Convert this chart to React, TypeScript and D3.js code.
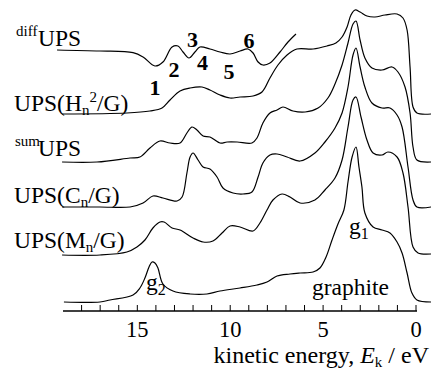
import React from 'react';
import * as d3 from 'd3';

// kinetic energy (eV) and intensity (a.u., above each trace's own baseline)
const diffE = [19.32, 17.01, 15.23, 14.69, 14.05, 13.62, 13.13, 12.81, 12.54, 12.22, 11.9, 11.63, 11.09, 10.55, 10.01, 9.47, 9.04, 8.77, 8.5, 8.24, 7.86, 7.32, 6.89, 6.46];
const diffI = [0, -1, -2.7, -7, -16, -12, 3, 4, -2, -8, -2, 3, 1, -2, -4, -1, 1, -3, -12, -15, -13, -2, 8, 16];

const hnE = [19.05, 15.56, 14.32, 13.67, 13.24, 12.7, 12.16, 11.52, 11.09, 10.55, 10.01, 9.47, 8.77, 8.29, 7.86, 7.43, 6.94, 6.41, 5.54, 4.79, 4.31, 3.98, 3.71, 3.5, 3.28, 3.01, 2.64, 2.21, 1.67, 1.02, 0.7, 0.48, 0.32, 0.16, -0.05, -0.81];
const hnI = [0, 1, 3, 6, 14, 23, 26, 27, 24, 19, 16, 17, 18, 22, 36, 49, 59, 65, 65, 68, 71, 77, 87, 99, 104, 102, 98, 97, 99, 100, 96, 84, 47, 7, 1, 0];

const sumE = [19.05, 17.17, 15.39, 14.86, 14.32, 13.78, 13.24, 12.7, 12.33, 12.06, 11.79, 11.46, 11.09, 10.55, 10.17, 9.63, 8.83, 8.56, 8.24, 7.86, 7.48, 7.16, 6.62, 5.97, 5.27, 4.74, 4.36, 3.98, 3.66, 3.39, 3.23, 3.01, 2.75, 2.37, 1.83, 1.29, 0.97, 0.59, 0.32, 0.16, -0.05, -0.81];
const sumI = [0, 0, 4, 5, 14, 21, 19, 19, 29, 35, 32, 26, 25, 19, 20, 20, 19, 24, 39, 49, 52, 55, 51, 50, 54, 64, 78, 97, 119, 138, 141, 122, 104, 94, 92, 95, 90, 75, 49, 15, 2, 0];

const cnE = [19.05, 17.01, 15.39, 14.69, 14.16, 13.62, 12.86, 12.59, 12.33, 12.16, 12.0, 11.73, 11.46, 11.09, 10.71, 10.39, 9.85, 9.31, 8.83, 8.5, 8.24, 7.86, 7.48, 6.94, 6.24, 5.44, 4.9, 4.36, 3.98, 3.66, 3.39, 3.23, 3.01, 2.75, 2.37, 1.83, 1.4, 1.02, 0.75, 0.43, 0.16, -0.05, -0.81];
const cnI = [0, 0, 0, 4, 11, 9, 6, 10, 34, 50, 54, 47, 40, 38, 30, 19, 14, 13, 15, 30, 44, 52, 53, 50, 46, 54, 65, 79, 94, 120, 152, 159, 140, 120, 104, 99, 99, 92, 80, 40, 7, 0, 0];

const mnE = [19.05, 17.01, 15.56, 15.02, 14.59, 14.16, 13.78, 13.56, 13.13, 12.7, 12.0, 11.46, 10.93, 10.44, 10.01, 9.47, 8.77, 8.4, 8.02, 7.7, 7.21, 6.78, 6.24, 5.44, 4.9, 4.36, 3.98, 3.66, 3.39, 3.23, 2.96, 2.64, 2.31, 1.83, 1.51, 1.02, 0.7, 0.43, 0.16, -0.11, -0.81];
const mnI = [0, 0, 3, 8, 15, 27, 33, 33, 27, 25, 17, 13, 14, 22, 29, 28, 24, 32, 45, 55, 61, 58, 52, 55, 65, 77, 95, 128, 155, 158, 138, 115, 102, 100, 103, 98, 82, 48, 8, 2, 1];

const grE = [18.95, 17.01, 16.47, 15.23, 14.86, 14.59, 14.37, 14.21, 14.05, 13.89, 13.62, 13.08, 12.16, 11.25, 10.55, 9.47, 8.56, 8.02, 7.48, 6.78, 6.24, 5.54, 5.17, 4.84, 4.52, 4.2, 3.88, 3.66, 3.44, 3.23, 3.07, 2.91, 2.75, 2.31, 1.83, 1.4, 1.02, 0.75, 0.48, 0.22, -0.05, -0.81];
const grI = [0, 0, 2, 7, 14, 24, 35, 40, 39, 34, 18, 11, 8, 8, 11, 14, 17, 20, 26, 28, 29, 30, 34, 45, 62, 78, 92, 120, 145, 155, 135, 115, 89, 75, 72, 69, 60, 49, 29, 9, 2, 0];

const traceOffsets = [262, 198, 150, 105, 57, 10];
const majorTicks = [15, 10, 5, 0];
const peakNumbers = ['1', '2', '3', '4', '5', '6'];
const peakNumberE = [14.05, 13.03, 12.03, 11.49, 10.07, 8.99];
const peakNumberI = [-45, -27, 3, -20, -29, 2];

const W = 431;
const H = 369;
const FS = 23.5;

function T({ style, ...props }: any) {
  return <text fontSize={FS} style={{ fontFamily: 'Liberation Serif', ...style }} {...props} />;
}

export default function App() {
  const x = d3.scaleLinear().domain([19, 0]).range([63, 416]);
  const y = d3.scaleLinear().domain([0, 300]).range([312, 12]);
  const axisY = 311;

  const traces = [
    [diffE, diffI],
    [hnE, hnI],
    [sumE, sumI],
    [cnE, cnI],
    [mnE, mnI],
    [grE, grI],
  ];

  const paths = traces.map(([es, is], k) => {
    const line = d3
      .line<number>()
      .x((_, i) => x(es[i]))
      .y((v) => y(v + traceOffsets[k]))
      .curve(d3.curveCatmullRom.alpha(0.5));
    return line(is) || '';
  });

  const minor = d3.range(0, 19);

  return (
    <svg width={W} height={H} style={{ position: 'absolute', left: 0, top: 0 }}>
      <rect width={W} height={H} fill="#fff" />
      {paths.map((d, k) => (
        <path key={k} d={d} fill="none" stroke="#000" strokeWidth={1.2} />
      ))}

      {/* axis */}
      <line x1={x(19)} x2={x(0) + 1} y1={axisY} y2={axisY} stroke="#000" strokeWidth={1.6} />
      {minor.map((t) => (
        <line key={t} x1={x(t)} x2={x(t)} y1={axisY} y2={axisY - 6} stroke="#000" strokeWidth={1} />
      ))}
      {majorTicks.map((t) => (
        <T key={t} x={x(t)} y={337} fontSize={22.5} textAnchor="middle">
          {t}
        </T>
      ))}
      <T x={429} y={363} fontSize={24} textAnchor="end">
        kinetic energy, <tspan fontStyle="italic">E</tspan>
        <tspan fontSize={15} dy={4}>k</tspan>
        <tspan dy={-4}> / eV</tspan>
      </T>

      {/* trace labels */}
      <T x={16} y={36} fontSize={15}>diff</T>
      <T x={38} y={46}>UPS</T>

      <T x={14} y={111}>
        UPS(H<tspan fontSize={15} dy={4}>n</tspan>
        <tspan fontSize={15} dy={-13}>2</tspan>
        <tspan dy={9}>/G)</tspan>
      </T>

      <T x={15} y={146} fontSize={15}>sum</T>
      <T x={38} y={156}>UPS</T>

      <T x={14} y={203}>
        UPS(C<tspan fontSize={15} dy={4}>n</tspan>
        <tspan dy={-4}>/G)</tspan>
      </T>

      <T x={14} y={248}>
        UPS(M<tspan fontSize={15} dy={4}>n</tspan>
        <tspan dy={-4}>/G)</tspan>
      </T>

      {peakNumbers.map((n, i) => (
        <T
          key={n}
          x={x(peakNumberE[i])}
          y={y(peakNumberI[i] + traceOffsets[0])}
          fontSize={22}
          fontWeight="bold"
          textAnchor="middle"
        >
          {n}
        </T>
      ))}

      <T x={349} y={234}>
        g<tspan fontSize={16} dy={5}>1</tspan>
      </T>
      <T x={146} y={290}>
        g<tspan fontSize={16} dy={5}>2</tspan>
      </T>
      <T x={312} y={295}>graphite</T>
    </svg>
  );
}
